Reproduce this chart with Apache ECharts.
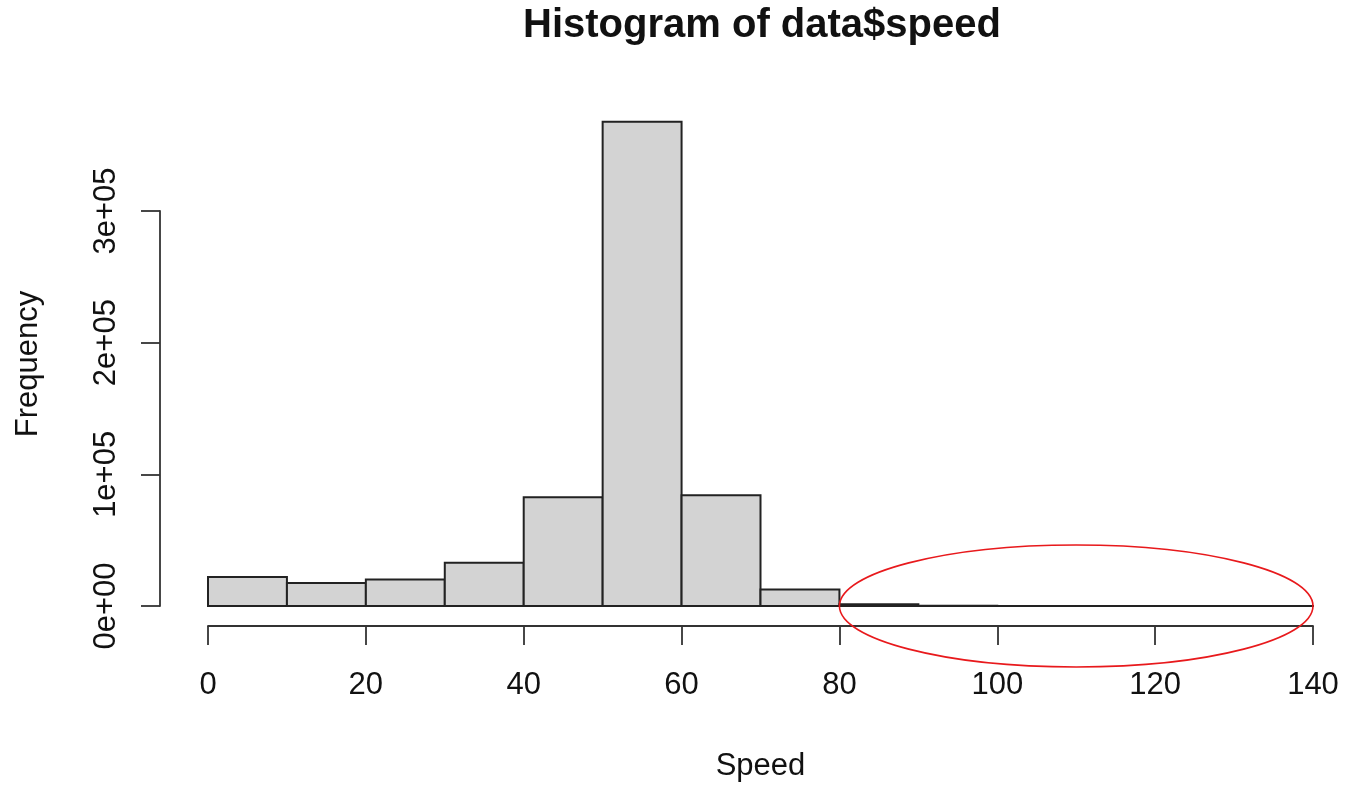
<!DOCTYPE html>
<html>
<head>
<meta charset="utf-8">
<script src="https://cdn.jsdelivr.net/npm/echarts@6/dist/echarts.min.js"></script>
<style>
html,body{margin:0;padding:0;background:#fff;}
#chart{width:1345px;height:787px;}
</style>
</head>
<body>
<div id="chart"></div>
<script>
// Histogram bins (speed) and frequencies
const binStarts = [0, 10, 20, 30, 40, 50, 60, 70, 80, 90, 100, 110, 120, 130];
const binEnds   = [10, 20, 30, 40, 50, 60, 70, 80, 90, 100, 110, 120, 130, 140];
const counts    = [22000, 17400, 20200, 32800, 82600, 367700, 84100, 12600, 1400, 150, 60, 30, 20, 10];
const yTicks    = [0, 100000, 200000, 300000];
const xTicks    = [0, 20, 40, 60, 80, 100, 120, 140];
const titleText = 'Histogram of data$speed';
const xName = 'Speed';
const yName = 'Frequency';

const FONT = "'Liberation Sans', Arial, sans-serif";
const TXT = '#111';
const AX = '#333';

function sci(v) {
  if (v === 0) return '0e+00';
  const e = Math.floor(Math.log10(Math.abs(v)));
  const m = Math.round(v / Math.pow(10, e));
  return m + 'e' + (e >= 0 ? '+' : '-') + String(Math.abs(e)).padStart(2, '0');
}

const data = binStarts.map((s, i) => [s, binEnds[i], counts[i]]);

const chart = echarts.init(document.getElementById('chart'), null, {renderer: 'canvas'});
chart.setOption({
  animation: false,
  backgroundColor: '#fff',
  title: {
    text: titleText,
    left: 757, top: 1, textAlign: 'center',
    textStyle: {fontFamily: FONT, fontWeight: 'bold', fontSize: 40, color: TXT}
  },
  grid: {left: 208, right: 32, top: 211, bottom: 180, containLabel: false},
  xAxis: {
    type: 'value', min: xTicks[0], max: xTicks[xTicks.length - 1], interval: 20,
    offset: 20,
    name: xName, nameLocation: 'middle', nameGap: 125,
    nameTextStyle: {fontFamily: FONT, fontSize: 31, color: TXT},
    axisLine: {show: true, onZero: false, lineStyle: {color: AX, width: 1.8}},
    axisTick: {show: true, length: 19, lineStyle: {color: AX, width: 1.8}},
    axisLabel: {fontFamily: FONT, fontSize: 31, color: TXT, margin: 44},
    splitLine: {show: false}
  },
  yAxis: {
    type: 'value', min: yTicks[0], max: yTicks[yTicks.length - 1], interval: 100000,
    position: 'left', offset: 48,
    axisLine: {show: true, onZero: false, lineStyle: {color: AX, width: 1.8}},
    axisTick: {show: true, length: 19, lineStyle: {color: AX, width: 1.8}},
    axisLabel: {fontFamily: FONT, fontSize: 31, color: TXT, rotate: 90, margin: 38, formatter: sci},
    splitLine: {show: false}
  },
  series: [{
    type: 'custom',
    clip: false,
    data: data,
    encode: {x: [0, 1], y: 2},
    renderItem: function (params, api) {
      const p0 = api.coord([api.value(0), 0]);
      const p1 = api.coord([api.value(1), api.value(2)]);
      return {
        type: 'rect',
        shape: {x: p0[0], y: p1[1], width: p1[0] - p0[0], height: p0[1] - p1[1]},
        style: {fill: '#d3d3d3', stroke: '#222', lineWidth: 2}
      };
    }
  }]
});

// Annotation ellipse around the 80–140 tail, placed via the axes
const c = chart.convertToPixel({gridIndex: 0}, [110, 0]);
const l = chart.convertToPixel({gridIndex: 0}, [80, 0]);
const rx = c[0] - l[0];
chart.setOption({
  graphic: [
    {
      type: 'text', x: 28, y: 364, rotation: Math.PI / 2,
      style: {text: yName, font: '31px ' + FONT, fill: TXT, textAlign: 'center', textVerticalAlign: 'middle'}
    },
    {
      type: 'ellipse', silent: true, z: 100,
      shape: {cx: c[0], cy: c[1], rx: rx, ry: 61},
      style: {fill: 'none', stroke: '#e8191c', lineWidth: 1.6}
    }
  ]
});
</script>
</body>
</html>
